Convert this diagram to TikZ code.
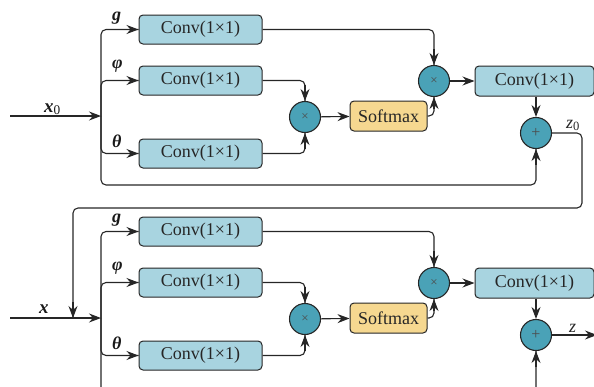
\documentclass[tikz,border=0pt]{standalone}
\usepackage{fontspec}
\setmainfont{Liberation Serif}
\usetikzlibrary{arrows.meta}

\definecolor{convfill}{HTML}{A8D4E0}
\definecolor{opfill}{HTML}{4AA2B7}
\definecolor{softfill}{HTML}{F6D890}
\definecolor{edge}{HTML}{262626}

\begin{document}
\begin{tikzpicture}[x=1pt,y=-1pt,
  conv/.style={draw=edge, line width=1pt, fill=convfill, rounded corners=4pt,
    minimum width=123pt, minimum height=29pt, inner sep=0pt,
    font=\fontsize{18}{20}\selectfont, text=black!85},
  soft/.style={conv, fill=softfill, minimum width=77pt, minimum height=30pt},
  op/.style={circle, draw=edge, line width=1.1pt, fill=opfill, minimum size=31pt,
    inner sep=0pt, font=\fontsize{13}{13}\selectfont, text=black!70},
  % elbow lines carry the rounded corners, the heads are drawn on a straight
  % final piece so that the corner rounding does not blunt them
  link/.style={draw=edge, line width=1.1pt, rounded corners=5pt},
  tip/.style={draw=edge, line width=1.1pt, sharp corners,
    -{Stealth[length=12pt,width=9pt,inset=4pt]}},
  lbl/.style={inner sep=0pt, anchor=base west, text=black!90,
    font=\fontsize{18}{20}\selectfont\bfseries\itshape},
  zlbl/.style={inner sep=0pt, anchor=base west, text=black!85,
    font=\fontsize{18}{20}\selectfont\itshape},
]
\useasboundingbox (0,0) rectangle (594,386);
\clip (0,0) rectangle (594,386);

% two identical non-local blocks, the second shifted down
\foreach \b/\dy/\by in {a/0/185, b/202/400} {
  \node[conv] (g\b)   at (200.5, 29.5+\dy) {Conv(1×1)};
  \node[conv] (phi\b) at (200.5, 80.5+\dy) {Conv(1×1)};
  \node[conv] (th\b)  at (200.5,153.5+\dy) {Conv(1×1)};
  \node[op]   (m1\b)  at (305,117+\dy) {×};
  \node[soft] (sm\b)  at (388.5,116+\dy) {Softmax};
  \node[op]   (m2\b)  at (434,81+\dy) {×};
  \node[conv, minimum width=119pt, minimum height=30pt] (c4\b) at (534.5,81+\dy) {Conv(1×1)};
  \node[op, font=\fontsize{16}{16}\selectfont] (plus\b) at (536,133+\dy) {+};

  \coordinate (in\b)  at (10,116+\dy);
  \coordinate (bus\b) at (101,116+\dy);
  \coordinate (low\b) at (101,\by);

  \node[lbl] at (112,20+\dy)  {g};
  \node[lbl] at (112,68+\dy)  {φ};
  \node[lbl] at (112,147+\dy) {θ};

  % straight connectors
  \draw[tip] (in\b) -- (bus\b);
  \draw[tip] (m1\b) -- (sm\b);
  \draw[tip] (m2\b) -- (c4\b);
  \draw[tip] (plus\b |- c4\b.south) -- (plus\b.north);

  % elbow connectors
  \draw[link] (bus\b) |- (g\b.west);
  \draw[link] (bus\b) |- (phi\b.west);
  \draw[link] (bus\b) |- (th\b.west);
  \draw[link] (bus\b) -- (low\b) -| (plus\b.south);
  \draw[link] (phi\b.east) -| (m1\b.north);
  \draw[link] (th\b.east) -| (m1\b.south);
  \draw[link] (sm\b.east) -| (m2\b.south);
  \draw[link] (g\b.east) -| (m2\b.north);

  % heads of the elbow connectors
  \draw[tip] (g\b.west)   ++(-16,0) -- (g\b.west);
  \draw[tip] (phi\b.west) ++(-16,0) -- (phi\b.west);
  \draw[tip] (th\b.west)  ++(-16,0) -- (th\b.west);
  \draw[tip] (plus\b.south) ++(0,16) -- (plus\b.south);
  \draw[tip] (m1\b.north) ++(0,-16) -- (m1\b.north);
  \draw[tip] (m1\b.south) ++(0,16) -- (m1\b.south);
  \draw[tip] (m2\b.south) ++(0,12) -- (m2\b.south);
  \draw[tip] (m2\b.north) ++(0,-16) -- (m2\b.north);
}

% input labels
\node[lbl, font=\fontsize{19}{20}\selectfont\bfseries\itshape] at (44,112)
  {x\textsubscript{\normalfont 0}};
\node[lbl, font=\fontsize{19}{20}\selectfont\bfseries\itshape] at (39,313) {x};

% feedback from the first block into the second
\coordinate (fbR) at (582,208);
\coordinate (fbL) at (73,208);
\draw[link] (plusa.east) -| (fbR) -- (fbL) -- (fbL |- inb);
\draw[tip] (fbL |- inb) ++(0,-16) -- (fbL |- inb);
\node[zlbl] at (566,128) {z\textsubscript{\normalfont 0}};

% output
\coordinate (out) at (597,336);
\draw[tip] (plusb.east) -- (plusb.east -| out);
\node[zlbl] at (569,332) {z};
\end{tikzpicture}
\end{document}
